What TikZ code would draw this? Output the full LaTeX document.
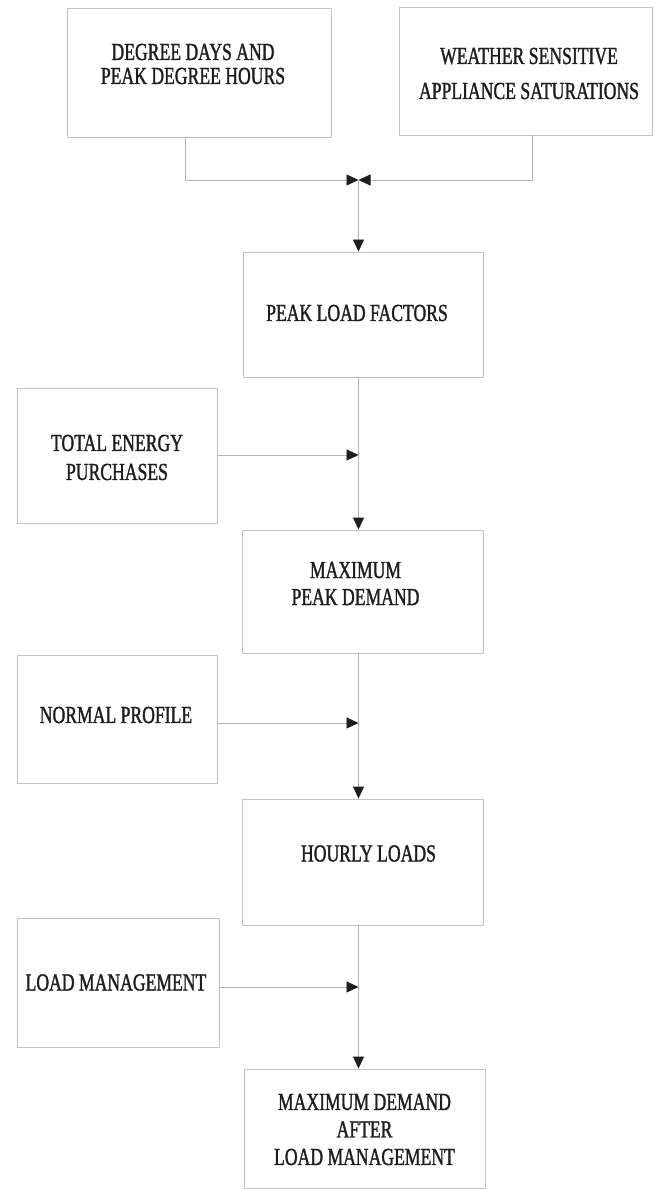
\documentclass[tikz,border=0pt]{standalone}
\usepackage{fontspec}
\setmainfont[FakeStretch=0.72,FakeBold=1.3]{Liberation Serif}
\usetikzlibrary{arrows.meta}
\definecolor{boxgray}{HTML}{C4C4C4}
\definecolor{linegray}{HTML}{B4B4B4}
\definecolor{inkcol}{HTML}{1E1E1E}
\begin{document}
\begin{tikzpicture}[x=1pt,y=-1pt,
  box/.style={draw=boxgray, line width=0.9pt, inner sep=0pt},
  lab/.style={inner sep=0pt, align=center, text=inkcol,
    font=\fontsize{24.5}{#1}\selectfont},
  lab/.default=28,
  conn/.style={draw=linegray, line width=0.9pt},
  tipped/.style={-{Triangle[length=12pt,width=11pt,color=inkcol,fill=inkcol]}}
]
\fill[white] (0,0) rectangle (654,1190);
\useasboundingbox (0,0) rectangle (654,1190);

\node[box, minimum width=264pt, minimum height=129pt,
  label={[lab=24, xshift=-6pt, yshift=8.5pt]center:{DEGREE DAYS AND\\PEAK DEGREE HOURS}}] (dd) at (199,72.5) {};
\node[box, minimum width=253pt, minimum height=128pt,
  label={[lab=35, xshift=3pt, yshift=-2.5pt]center:{WEATHER SENSITIVE\\APPLIANCE SATURATIONS}}] (ws) at (526,71) {};
\node[box, minimum width=240pt, minimum height=125pt,
  label={[lab, xshift=-6pt, yshift=1.5pt]center:{PEAK LOAD FACTORS}}] (plf) at (363,314.5) {};
\node[box, minimum width=200pt, minimum height=135pt,
  label={[lab=29, yshift=-2pt]center:{TOTAL ENERGY\\PURCHASES}}] (tep) at (117,455.5) {};
\node[box, minimum width=241pt, minimum height=123pt,
  label={[lab=27, xshift=-7pt, yshift=8pt]center:{MAXIMUM\\PEAK DEMAND}}] (mpd) at (362.5,591.5) {};
\node[box, minimum width=200pt, minimum height=128pt,
  label={[lab, xshift=-1pt, yshift=4pt]center:{NORMAL PROFILE}}] (np) at (117,719) {};
\node[box, minimum width=241pt, minimum height=126pt,
  label={[lab, xshift=6pt, yshift=8.5pt]center:{HOURLY LOADS}}] (hl) at (362.5,862) {};
\node[box, minimum width=202pt, minimum height=129pt,
  label={[lab, xshift=-2pt]center:{LOAD MANAGEMENT}}] (lm) at (118,982.5) {};
\node[box, minimum width=241pt, minimum height=119pt,
  label={[lab=27.5, yshift=-1pt]center:{MAXIMUM DEMAND\\AFTER\\LOAD MANAGEMENT}}] (mdalm) at (364.5,1128.5) {};

\coordinate (ddx) at (185,0);
\coordinate (wsx) at (532,0);
\coordinate (m) at (358.5,180);
\coordinate (j2) at (358.5,455);
\coordinate (j3) at (358.5,723);
\coordinate (j4) at (358.5,987);

\draw[conn,tipped] (dd.south -| ddx) |- (m);
\draw[conn,tipped] (ws.south -| wsx) |- (m);
\draw[conn,tipped] (m) -- (plf.north -| m);
\draw[conn,tipped] (plf.south -| m) -- (mpd.north -| m);
\draw[conn,tipped] (tep.east |- j2) -- (j2);
\draw[conn,tipped] (mpd.south -| m) -- (hl.north -| m);
\draw[conn,tipped] (np.east |- j3) -- (j3);
\draw[conn,tipped] (hl.south -| m) -- (mdalm.north -| m);
\draw[conn,tipped] (lm.east |- j4) -- (j4);
\end{tikzpicture}
\end{document}
